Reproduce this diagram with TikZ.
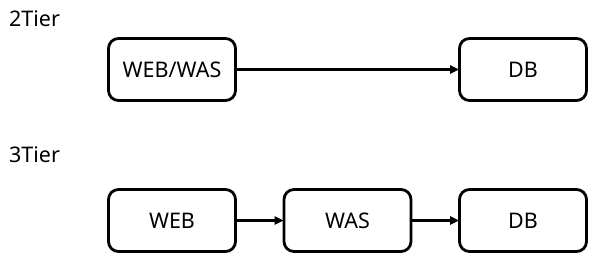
\documentclass[tikz,border=0pt]{standalone}
\usepackage{fontspec}
\setmainfont{Noto Sans}
\usetikzlibrary{arrows.meta}
\begin{document}
\begin{tikzpicture}[x=1pt,y=-1pt,
  tier/.style={draw=black,line width=2.8pt,rounded corners=10pt,minimum width=127pt,minimum height=62pt,inner sep=0pt,font=\fontsize{21.5}{25}\selectfont},
  lbl/.style={anchor=base west,inner sep=0pt,font=\fontsize{21.5}{25}\selectfont},
  conn/.style={line width=2.6pt,-{Triangle[length=9pt,width=8pt]},shorten >=-1pt}]
\useasboundingbox (0,0) rectangle (602,258);
\node[lbl] (t2) at (9,26) {2Tier};
\node[lbl] (t3) at (9,162) {3Tier};
\node[tier] (webwas) at (172,69.5) {WEB/WAS};
\node[tier] (db1) at (523,69.5) {DB};
\node[tier] (web) at (172,220.5) {WEB};
\node[tier] (was) at (347.5,220.5) {WAS};
\node[tier] (db2) at (523,220.5) {DB};
\draw[conn] (webwas) -- (db1);
\draw[conn] (web) -- (was);
\draw[conn] (was) -- (db2);
\end{tikzpicture}
\end{document}
